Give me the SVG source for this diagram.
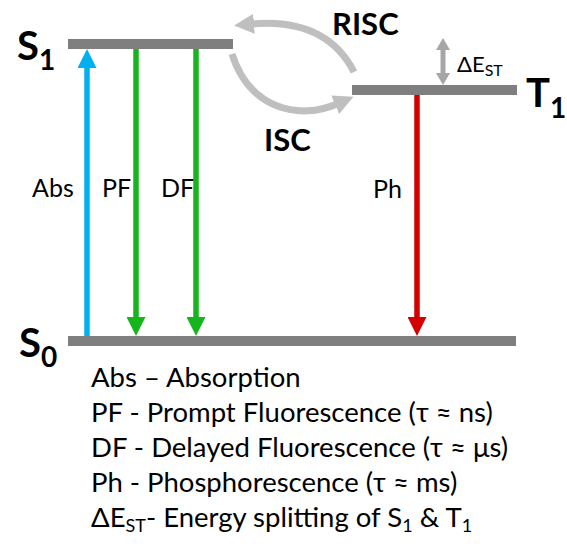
<svg xmlns="http://www.w3.org/2000/svg" width="567" height="553" viewBox="0 0 567 553">
<style>
  .bar{fill:#7f7f7f}
  text{font-family:Lato,"Open Sans","DejaVu Sans",sans-serif;fill:#000}
  .big{font-weight:bold;font-size:40px}
  .bsub{font-size:28px}
  .proc{font-weight:bold;font-size:31px}
  .lbl{font-size:25px}
  .leg{font-size:27.5px}
  .lsub{font-size:18px}
  .v{fill:none;stroke-width:5.5}
  .curve{fill:none;stroke:#bfbfbf;stroke-width:7}
</style>
<defs>
  <marker id="ahBlue" markerUnits="userSpaceOnUse" markerWidth="19" markerHeight="19" refX="9" refY="9.5" orient="auto">
    <path d="M0,0 L19,9.5 L0,19 z" fill="#00b0f0"/>
  </marker>
  <marker id="ahGreen" markerUnits="userSpaceOnUse" markerWidth="19" markerHeight="19" refX="9" refY="9.5" orient="auto">
    <path d="M0,0 L19,9.5 L0,19 z" fill="#17b51c"/>
  </marker>
  <marker id="ahRed" markerUnits="userSpaceOnUse" markerWidth="19" markerHeight="19" refX="9" refY="9.5" orient="auto">
    <path d="M0,0 L19,9.5 L0,19 z" fill="#d40000"/>
  </marker>
  <marker id="ahGray" markerUnits="userSpaceOnUse" markerWidth="20" markerHeight="20" refX="2" refY="10" orient="auto">
    <path d="M0,0 L20,10 L0,20 z" fill="#bfbfbf"/>
  </marker>
  <marker id="ahSmall" markerUnits="userSpaceOnUse" markerWidth="12" markerHeight="14" refX="2" refY="7" orient="auto-start-reverse">
    <path d="M0,0 L12,7 L0,14 z" fill="#a6a6a6"/>
  </marker>
</defs>

<g id="connectors">
  <line id="abs" class="v" x1="87" y1="336" x2="87" y2="59" stroke="#00b0f0" marker-end="url(#ahBlue)"/>
  <line id="pf" class="v" x1="136" y1="49" x2="136" y2="326" stroke="#17b51c" marker-end="url(#ahGreen)"/>
  <line id="df" class="v" x1="196" y1="49" x2="196" y2="326" stroke="#17b51c" marker-end="url(#ahGreen)"/>
  <line id="ph" class="v" x1="417" y1="95" x2="417" y2="326" stroke="#d40000" marker-end="url(#ahRed)"/>
  <line id="dest" x1="443" y1="48" x2="443" y2="75" stroke="#a6a6a6" stroke-width="5" marker-start="url(#ahSmall)" marker-end="url(#ahSmall)"/>
  <path id="risc" class="curve" d="M354,72 C335,35 300,20 252,24" marker-end="url(#ahGray)"/>
  <path id="isc" class="curve" d="M232,54 C250,110 300,120 337,104" marker-end="url(#ahGray)"/>
</g>

<g id="S1">
  <rect class="bar" x="68" y="39" width="165" height="10"/>
  <text class="big" x="17" y="60">S<tspan class="bsub" dy="10">1</tspan></text>
</g>
<g id="T1">
  <rect class="bar" x="352" y="85" width="165" height="10"/>
  <text class="big" x="526" y="107">T<tspan class="bsub" dy="11">1</tspan></text>
</g>
<g id="S0">
  <rect class="bar" x="68" y="336" width="448" height="10"/>
  <text class="big" x="19" y="357">S<tspan class="bsub" dy="10">0</tspan></text>
</g>

<g id="labels">
  <text class="proc" x="332" y="35">RISC</text>
  <text class="proc" x="264" y="151">ISC</text>
  <text class="lbl" x="32" y="197">Abs</text>
  <text class="lbl" x="102" y="197">PF</text>
  <text class="lbl" x="161" y="197">DF</text>
  <text class="lbl" x="373" y="198">Ph</text>
  <text x="457" y="72" font-size="22">ΔE<tspan font-size="16" dy="4">ST</tspan></text>
</g>

<g id="legend">
  <text class="leg" x="91" y="387">Abs – Absorption</text>
  <text class="leg" x="91" y="422">PF - Prompt Fluorescence (τ ≈ ns)</text>
  <text class="leg" x="91" y="457">DF - Delayed Fluorescence (τ ≈ μs)</text>
  <text class="leg" x="91" y="492">Ph - Phosphorescence (τ ≈ ms)</text>
  <text class="leg" x="91" y="527">ΔE<tspan class="lsub" dy="5">ST</tspan><tspan dy="-5">- Energy splitting of S</tspan><tspan class="lsub" dy="5">1</tspan><tspan dy="-5"> &amp; T</tspan><tspan class="lsub" dy="5">1</tspan></text>
</g>
</svg>
